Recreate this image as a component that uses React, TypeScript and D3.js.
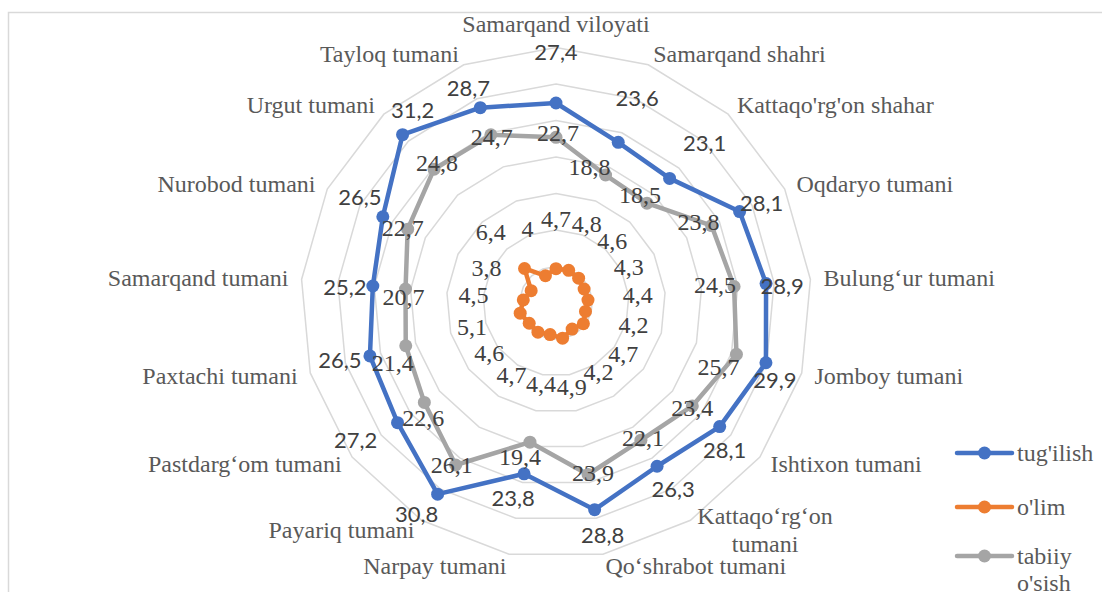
import { useRef, useEffect } from 'react';
import * as d3 from 'd3';

const categories = [
  'Samarqand viloyati',
  'Samarqand shahri',
  "Kattaqo'rg'on shahar",
  'Oqdaryo tumani',
  'Bulung‘ur tumani',
  'Jomboy tumani',
  'Ishtixon tumani',
  'Kattaqo‘rg‘on\ntumani',
  'Qo‘shrabot tumani',
  'Narpay tumani',
  'Payariq tumani',
  'Pastdarg‘om tumani',
  'Paxtachi tumani',
  'Samarqand tumani',
  'Nurobod tumani',
  'Urgut tumani',
  'Tayloq tumani',
];

const tugilish = [27.4, 23.6, 23.1, 28.1, 28.9, 29.9, 28.1, 26.3, 28.8, 23.8, 30.8, 27.2, 26.5, 25.2, 26.5, 31.2, 28.7];
const olim = [4.7, 4.8, 4.6, 4.3, 4.4, 4.2, 4.7, 4.2, 4.9, 4.4, 4.7, 4.6, 5.1, 4.5, 3.8, 6.4, 4.0];
const tabiiy = [22.7, 18.8, 18.5, 23.8, 24.5, 25.7, 23.4, 22.1, 23.9, 19.4, 26.1, 22.6, 21.4, 20.7, 22.7, 24.8, 24.7];

const seriesNames = ["tug'ilish", "o'lim", "tabiiy\no'sish"];
const ringTicks = [5, 10, 15, 20, 25, 30, 35];

// hand-moved label nudges (px from the point), as in the source chart
const blueNudge = [[0, -51], [19, -45], [35, -36], [22, -9], [16, 2], [9, 17], [5, 23], [16, 22], [8, 25], [-11, 24], [-21, 19], [-42, 17], [-30, 4], [-28, 0], [-23, -20], [10, -25], [-12, -20]];
const greyNudge = [[2, -4], [-16, -8], [-7, -8], [-13, -4], [-19, -1], [-18, 13], [0, 2], [2, -2], [5, -1], [-10, 15], [-4, 0], [-1, 16], [-13, 17], [-2, 8], [-5, -1], [3, -6], [1, 2]];

const W = 1102;
const H = 592;
const cx = 556;
const cy = 303;
const R = 255.5;
const serif = '"Liberation Serif", serif';
const sans = 'Lato, "Liberation Sans", sans-serif';

const App = () => {
  const svgRef = useRef<SVGSVGElement>(null);

  useEffect(() => {
    const svg = d3.select(svgRef.current);
    svg.selectAll('*').remove();

    const r = d3.scaleLinear().domain([0, 35]).range([0, R]);
    const angle = d3.scaleLinear().domain([0, categories.length]).range([0, 2 * Math.PI]);
    const pt = (i: number, v: number) => [cx + r(v) * Math.sin(angle(i)), cy - r(v) * Math.cos(angle(i))];

    svg.append('rect')
      .attr('x', 8.5).attr('y', 12.5)
      .attr('width', W).attr('height', H)
      .attr('fill', 'none').attr('stroke', '#d9d9d9').attr('stroke-width', 1.5);

    const g = svg.append('g').attr('transform', `translate(${cx},${cy})`);

    const radial = d3.lineRadial<number>()
      .angle((_, i) => angle(i))
      .radius(d => r(d))
      .curve(d3.curveLinearClosed);

    g.selectAll('path.ring')
      .data(ringTicks)
      .join('path')
      .attr('class', 'ring')
      .attr('d', t => radial(categories.map(() => t)))
      .attr('fill', 'none')
      .attr('stroke', '#d9d9d9')
      .attr('stroke-width', 1.5);

    const series = [
      { values: tugilish, color: '#4472c4' },
      { values: olim, color: '#ed7d31' },
      { values: tabiiy, color: '#a5a5a5' },
    ];

    series.forEach(s => {
      g.append('path')
        .attr('d', radial(s.values))
        .attr('fill', 'none')
        .attr('stroke', s.color)
        .attr('stroke-width', 4.5)
        .attr('stroke-linejoin', 'round');
      g.selectAll(null)
        .data(s.values)
        .join('circle')
        .attr('cx', (d, i) => r(d) * Math.sin(angle(i)))
        .attr('cy', (d, i) => -r(d) * Math.cos(angle(i)))
        .attr('r', 6.5)
        .attr('fill', s.color);
    });

    const fmt = (v: number) => String(v).replace('.', ',');

    // data labels
    svg.append('g').selectAll('text')
      .data(tugilish)
      .join('text')
      .attr('x', (d, i) => pt(i, d)[0] + blueNudge[i][0])
      .attr('y', (d, i) => pt(i, d)[1] + blueNudge[i][1])
      .attr('text-anchor', 'middle')
      .attr('dominant-baseline', 'central')
      .style('font-family', sans)
      .style('font-size', '22px')
      .attr('fill', '#404040')
      .text(fmt);

    svg.append('g').selectAll('text')
      .data(olim)
      .join('text')
      .attr('x', (d, i) => cx + (r(d) + 50) * Math.sin(angle(i)))
      .attr('y', (d, i) => cy - (r(d) + 50) * Math.cos(angle(i)))
      .attr('text-anchor', 'middle')
      .attr('dominant-baseline', 'central')
      .style('font-family', serif)
      .style('font-size', '24px')
      .attr('fill', '#404040')
      .text(fmt);

    svg.append('g').selectAll('text')
      .data(tabiiy)
      .join('text')
      .attr('x', (d, i) => pt(i, d)[0] + greyNudge[i][0])
      .attr('y', (d, i) => pt(i, d)[1] + greyNudge[i][1])
      .attr('text-anchor', 'middle')
      .attr('dominant-baseline', 'central')
      .style('font-family', serif)
      .style('font-size', '24px')
      .attr('fill', '#404040')
      .text(fmt);

    // category labels
    const lineH = 28;
    categories.forEach((name, i) => {
      const a = angle(i);
      const s = Math.sin(a);
      const c = Math.cos(a);
      const vx = cx + R * s;
      const vy = cy - R * c;
      const lines = name.split('\n');
      const t = svg.append('text')
        .attr('text-anchor', 'middle')
        .attr('dominant-baseline', 'central')
        .style('font-family', serif)
        .style('font-size', '24px')
        .attr('fill', '#595959');
      const spans = lines.map((ln, k) => t.append('tspan')
        .attr('x', 0)
        .attr('dy', k === 0 ? -((lines.length - 1) / 2) * lineH : lineH)
        .text(ln));
      const w = (t.node() as SVGTextElement).getBBox().width;
      let x: number;
      let y: number;
      if (Math.abs(s) < 0.1) {
        x = vx;
        y = vy - 24;
      } else {
        x = vx + s * 13 + (s > 0 ? w / 2 : -w / 2);
        y = vy - c * 12;
      }
      t.attr('y', y);
      spans.forEach(sp => sp.attr('x', x));
    });

    // legend
    const legY = [453, 507, 556];
    const leg = svg.append('g');
    series.forEach((s, k) => {
      leg.append('line')
        .attr('x1', 957).attr('x2', 1012)
        .attr('y1', legY[k]).attr('y2', legY[k])
        .attr('stroke', s.color).attr('stroke-width', 4.5)
        .attr('stroke-linecap', 'round');
      leg.append('circle')
        .attr('cx', 984.5).attr('cy', legY[k])
        .attr('r', 6.5).attr('fill', s.color);
      const t = leg.append('text')
        .attr('dominant-baseline', 'central')
        .style('font-family', serif)
        .style('font-size', '24px')
        .attr('fill', '#595959');
      seriesNames[k].split('\n').forEach((ln, j) => {
        t.append('tspan').attr('x', 1017).attr('y', legY[k] + j * 27).text(ln);
      });
    });
  }, []);

  return (
    <svg
      ref={svgRef}
      width={W}
      height={H}
      style={{ position: 'absolute', left: 0, top: 0, background: '#fff' }}
    />
  );
};

export default App;
